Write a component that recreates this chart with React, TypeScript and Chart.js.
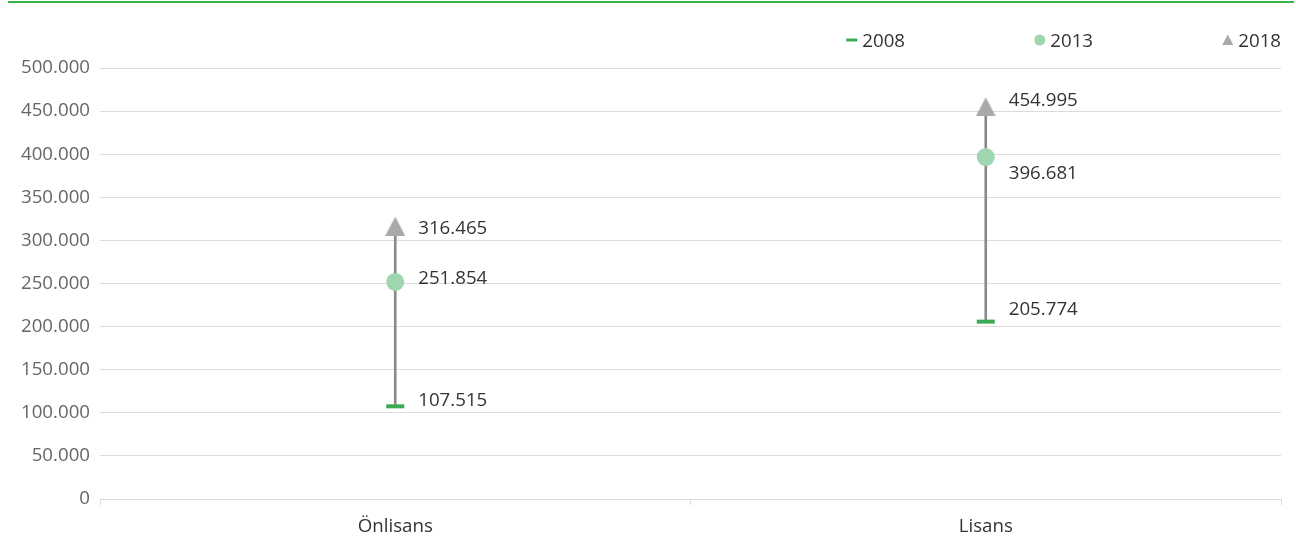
import React, { useEffect, useRef } from 'react';
import { Chart, registerables } from 'chart.js';

Chart.register(...registerables);

const categories = ['Önlisans', 'Lisans'];
const seriesNames = ['2008', '2013', '2018'];
const values2008 = [107515, 205774];
const values2013 = [251854, 396681];
const values2018 = [316465, 454995];
const yTickValues = [0, 50000, 100000, 150000, 200000, 250000, 300000, 350000, 400000, 450000, 500000];

const FONT = '"Open Sans", "Noto Sans", sans-serif';
const FS = 18.7;
const GREEN = '#3aab52';
const LIGHT_GREEN = '#9dd6af';
const GRAY = '#a9a9ac';
const LINE_GRAY = '#8a8a8a';

const fmt = (n: number) => String(n).replace(/\B(?=(\d{3})+(?!\d))/g, '.');

function makeTriangle(w: number, h: number, color: string) {
  const c = document.createElement('canvas');
  c.width = w;
  c.height = h;
  const ctx = c.getContext('2d')!;
  ctx.fillStyle = color;
  ctx.beginPath();
  ctx.moveTo(w / 2, 0);
  ctx.lineTo(w, h);
  ctx.lineTo(0, h);
  ctx.closePath();
  ctx.fill();
  return c;
}

const valueLabelsPlugin = {
  id: 'valueLabels',
  afterDatasetsDraw(chart: any, _args: any, opts: any) {
    const ctx = chart.ctx;
    ctx.save();
    ctx.font = `${FS}px ${FONT}`;
    ctx.fillStyle = '#333';
    ctx.textAlign = 'left';
    ctx.textBaseline = 'alphabetic';
    const dys: number[][] = opts.dy;
    for (let d = 0; d < 3; d++) {
      const meta = chart.getDatasetMeta(d);
      const data = chart.data.datasets[d].data as number[];
      meta.data.forEach((pt: any, i: number) => {
        ctx.fillText(fmt(data[i]), pt.x + opts.dx, pt.y + dys[d][i] + 6.6);
      });
    }
    ctx.restore();
  },
};

const customLegendPlugin = {
  id: 'customLegend',
  afterDraw(chart: any, _args: any, opts: any) {
    const ctx = chart.ctx;
    const right = chart.chartArea.right;
    const cy = opts.y;
    ctx.save();
    ctx.font = `${FS}px ${FONT}`;
    ctx.fillStyle = '#333';
    ctx.textBaseline = 'alphabetic';
    ctx.textAlign = 'left';
    const n = seriesNames.length;
    const markerW = 11;
    const gap = 5;
    const lastW = markerW + gap + ctx.measureText(seriesNames[n - 1]).width;
    for (let i = 0; i < n; i++) {
      const x0 = right - lastW - (n - 1 - i) * opts.pitch;
      const mx = x0 + markerW / 2;
      if (i === 0) {
        ctx.fillStyle = GREEN;
        ctx.fillRect(x0, cy - 1.5, markerW, 3);
      } else if (i === 1) {
        ctx.fillStyle = LIGHT_GREEN;
        ctx.beginPath();
        ctx.arc(mx, cy, 5.5, 0, Math.PI * 2);
        ctx.fill();
      } else {
        ctx.fillStyle = GRAY;
        ctx.beginPath();
        ctx.moveTo(mx, cy - 5.5);
        ctx.lineTo(x0 + markerW, cy + 5);
        ctx.lineTo(x0, cy + 5);
        ctx.closePath();
        ctx.fill();
      }
      ctx.fillStyle = '#333';
      ctx.fillText(seriesNames[i], x0 + markerW + gap, cy + 6.7);
    }
    ctx.restore();
  },
};

export default function App() {
  const ref = useRef<HTMLCanvasElement | null>(null);

  useEffect(() => {
    if (!ref.current) return;
    const triangle = makeTriangle(20, 19, GRAY);
    const chart = new Chart(ref.current, {
      type: 'bar',
      data: {
        labels: categories,
        datasets: [
          {
            type: 'line',
            label: seriesNames[0],
            data: values2008,
            showLine: false,
            pointStyle: 'line',
            pointRadius: 9,
            pointBorderWidth: 4,
            pointBorderColor: GREEN,
            pointBackgroundColor: GREEN,
            borderColor: GREEN,
            backgroundColor: GREEN,
          } as any,
          {
            type: 'line',
            label: seriesNames[1],
            data: values2013,
            showLine: false,
            pointStyle: 'circle',
            pointRadius: 9,
            pointBorderWidth: 0,
            pointBackgroundColor: LIGHT_GREEN,
            pointBorderColor: LIGHT_GREEN,
            borderColor: LIGHT_GREEN,
            backgroundColor: LIGHT_GREEN,
          } as any,
          {
            type: 'line',
            label: seriesNames[2],
            data: values2018,
            showLine: false,
            pointStyle: triangle,
            pointRadius: 10,
            borderColor: GRAY,
            backgroundColor: GRAY,
          } as any,
          {
            type: 'bar',
            label: 'range',
            data: values2008.map((v, i) => [v, values2018[i]]),
            backgroundColor: LINE_GRAY,
            barThickness: 2,
          } as any,
        ],
      },
      options: {
        animation: false,
        responsive: false,
        maintainAspectRatio: false,
        layout: { autoPadding: false, padding: { top: 68, right: 7, left: 0, bottom: 0 } },
        plugins: {
          legend: { display: false },
          tooltip: { enabled: false },
          valueLabels: { dx: 23, dy: [[-7, -13], [-5, 15], [1, -7]] },
          customLegend: { y: 40, pitch: 188 },
        } as any,
        scales: {
          x: {
            offset: true,
            grid: {
              display: true,
              drawOnChartArea: false,
              drawTicks: true,
              tickLength: 6,
              color: '#dcdcdc',
              offset: true,
            },
            border: { display: true, color: '#dcdcdc' },
            ticks: {
              color: '#333',
              font: { family: FONT, size: FS },
              padding: 10,
            },
            afterFit: (s: any) => {
              s.height = 43;
            },
          },
          y: {
            min: 0,
            max: 500000,
            afterBuildTicks: (s: any) => {
              s.ticks = yTickValues.map((v) => ({ value: v }));
            },
            grid: { color: '#dcdcdc', drawTicks: false },
            border: { display: false },
            ticks: {
              color: '#666',
              font: { family: FONT, size: FS },
              padding: 10,
              callback: (v: any) => fmt(Number(v)),
            },
            afterFit: (s: any) => {
              s.width = 92;
            },
          },
        },
      },
      plugins: [valueLabelsPlugin, customLegendPlugin],
    });
    return () => chart.destroy();
  }, []);

  return (
    <div style={{ position: 'absolute', left: 0, top: 0, width: 1296, height: 542, background: '#fff' }}>
      <div style={{ position: 'absolute', left: 8, top: 1, width: 1286, height: 2, background: '#3cb54a' }} />
      <canvas
        ref={ref}
        width={1280}
        height={542}
        style={{ position: 'absolute', left: 8, top: 0, width: 1280, height: 542 }}
      />
    </div>
  );
}
